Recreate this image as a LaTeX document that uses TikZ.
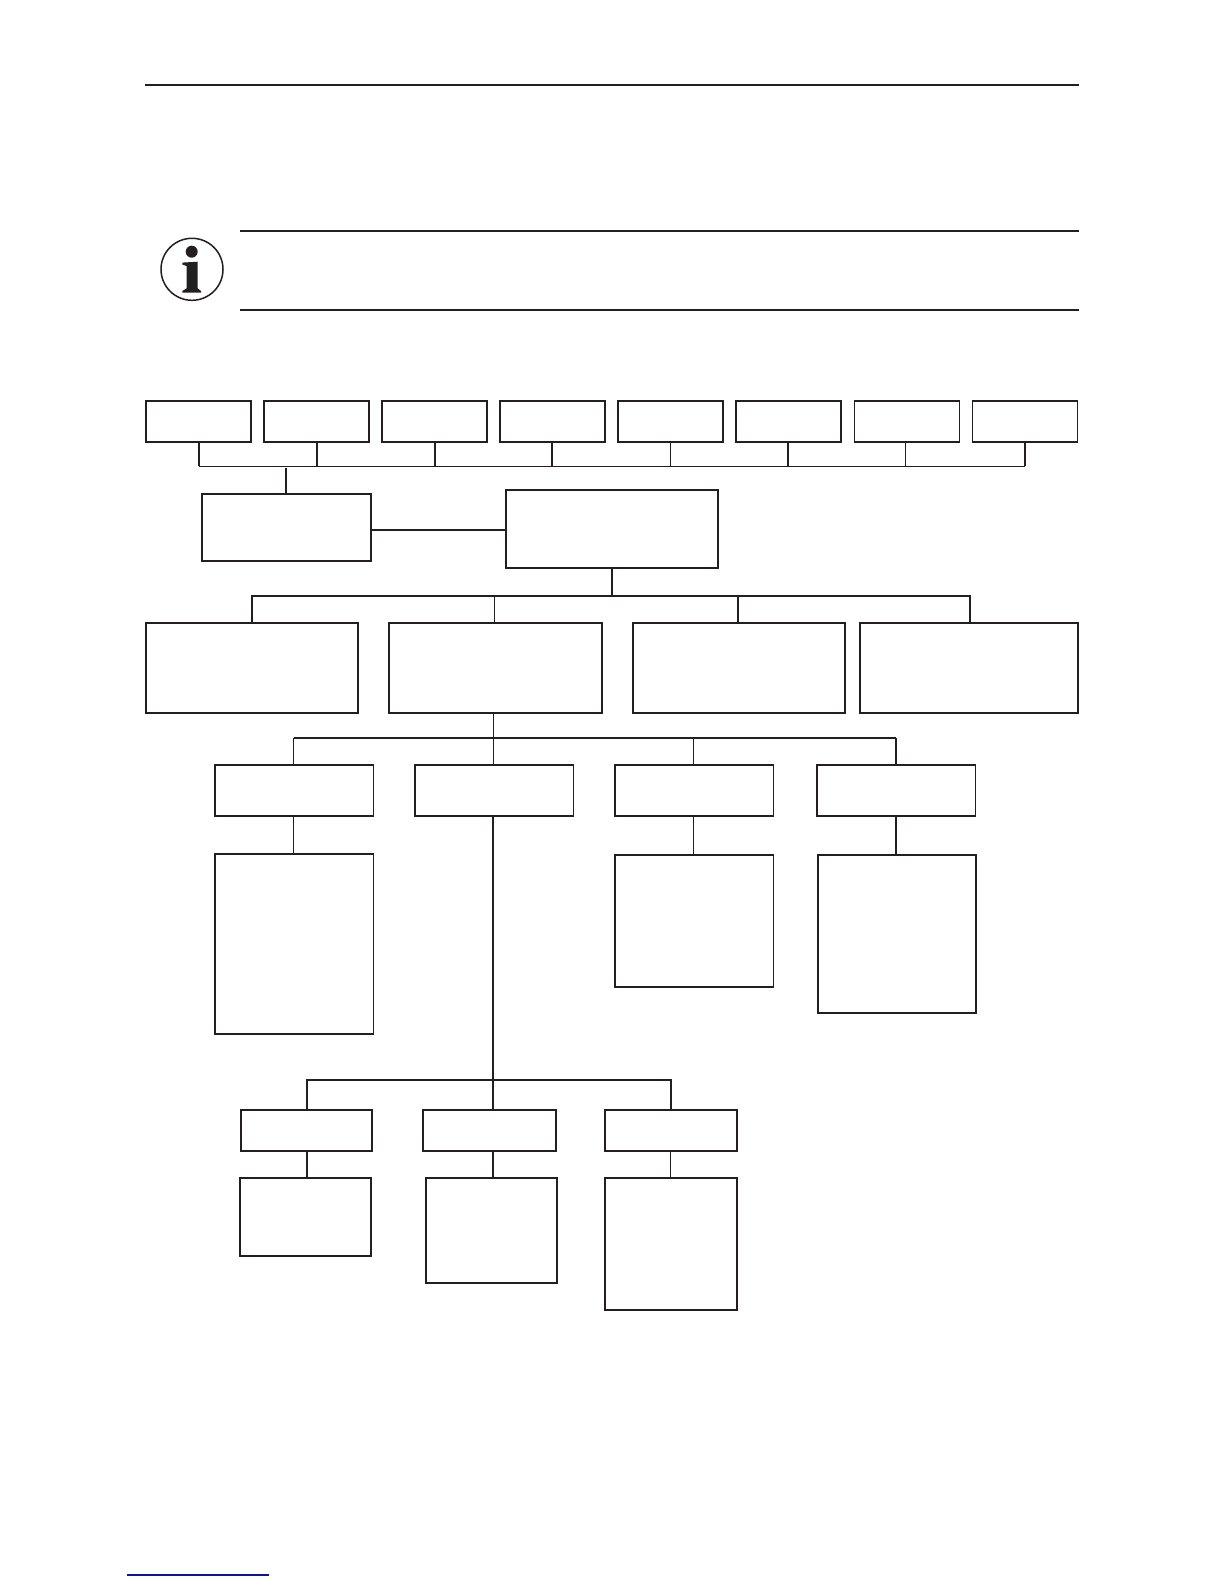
\documentclass[tikz,border=0pt]{standalone}
\usepackage{tikz}
\usetikzlibrary{positioning, calc}
\definecolor{inkcol}{HTML}{231F20}
\definecolor{linkcol}{HTML}{0A14A0}
% One unit is one pixel of the page
\def\px{0.5bp}
\tikzset{
    boxsize/.style 2 args={minimum width=#1*\px, minimum height=#2*\px},
    chartbox/.style={draw=inkcol, line width=0.9bp, fill=white, inner sep=0pt, outer sep=0pt},
    thinline/.style={draw=inkcol, line width=0.55bp},
    thickline/.style={draw=inkcol, line width=1bp},
    rule/.style={draw=inkcol, line width=1.05bp}
}

\begin{document}
\begin{tikzpicture}[x=\px, y=-\px]
        \useasboundingbox (0,0) rectangle (1224,1584);
        \fill[white] (0,0) rectangle (1224,1584);
        % Draw the page rules
        \draw[thinline] (145,85) -- (1079,85);
        \draw[rule] (240,230.7) -- (1079,230.7);
        \draw[rule] (240,310) -- (1079,310);
        % Draw the information sign
        \node[circle, draw=inkcol, line width=0.75bp, inner sep=0pt, outer sep=0pt, minimum size=62*\px] (info) at (192,269.3) {};
        \fill[inkcol] (191.7,251.7) circle (6);
        \fill[inkcol] (182.3,262.6) -- (197.7,261.7) -- (197.7,288.3) -- (201,291) -- (201,292.7)
            -- (182.3,292.7) -- (182.3,291) -- (186.7,288.3) -- (186.7,266) -- (182.3,264.6) -- cycle;
        % Draw the bottom link line
        \draw[draw=linkcol, line width=0.6bp] (127,1575) -- (269,1575);

        % Top row with its bus
        \coordinate (topbus) at (612,466.3);
        \foreach \n/\x/\d/\s in {1/198.5/0.5/thickline, 2/316.5/0/thickline, 3/434.7/0/thickline, 4/552.5/-0.5/thickline, 5/670.5/0/thinline, 6/788.5/-0.5/thickline, 7/907/-1.7/thinline, 8/1025/0/thickline} {
            \node[chartbox, boxsize={105}{41}] (top\n) at (\x,421.5) {};
            \draw[\s] ([xshift=\d*\px]top\n.south) -- ([xshift=\d*\px]top\n.south |- topbus);
        }
        \draw[thinline] (top1.south |- topbus) -- (top8.south |- topbus);

        % Second row
        \node[chartbox, boxsize={169}{67.3}] (unit) at (286.5,527.7) {};
        \node[chartbox, boxsize={212}{78}] (main) at (612.2,529) {};
        \draw[thickline] ([xshift=-0.5*\px]unit.north) -- ++(0,-26);
        \draw[thickline] ([yshift=-1*\px]main.west -| unit.east) -- ([yshift=-1*\px]main.west);

        % Third row
        \coordinate (groupbus) at (612.2,596);
        \coordinate (groupend) at (970.3,596);
        \foreach \n/\x/\w in {1/252/212, 2/495.6/213.2, 3/739/212.6, 4/969.2/218.3} {
            \node[chartbox, boxsize={\w}{89.7}] (group\n) at (\x,667.85) {};
        }
        \draw[thickline] (main.south) -- (groupbus);
        \draw[thickline] (group1.north) |- (groupbus) -- (groupend) -- (group4.north -| groupend);
        \draw[thinline] ([xshift=-1*\px]group2.north) -- ([xshift=-1*\px]group2.north |- groupbus);
        \draw[thickline] ([xshift=-0.8*\px]group3.north) -- ([xshift=-0.8*\px]group3.north |- groupbus);

        % Fourth row with the boxes below it
        \coordinate (partbus) at (493.4,738);
        \foreach \n/\x in {1/294.2, 2/494.2, 3/694.2, 4/896.2} {
            \node[chartbox, boxsize={158.6}{51}] (part\n) at (\x,790.5) {};
        }
        \draw[thinline] (group2.south -| partbus) -- (partbus);
        \draw[thickline] ([xshift=-0.3*\px]part1.north |- partbus) -- ([xshift=-0.3*\px]part4.north |- partbus);
        \draw[thinline] ([xshift=-0.3*\px]part1.north) -- ([xshift=-0.3*\px]part1.north |- partbus);
        \draw[thinline] (part2.north -| partbus) -- (partbus);
        \draw[thinline] ([xshift=-0.3*\px]part3.north) -- ([xshift=-0.3*\px]part3.north |- partbus);
        \draw[thickline] ([xshift=-0.3*\px]part4.north) -- ([xshift=-0.3*\px]part4.north |- partbus);
        \node[chartbox, boxsize={158.6}{180}] (list1) at (294.2,944) {};
        \node[chartbox, boxsize={158.7}{131.7}] (list3) at (694.1,920.85) {};
        \node[chartbox, boxsize={158}{158}] (list4) at (897,934) {};
        \draw[thinline] ([xshift=-0.3*\px]part1.south) -- ([xshift=-0.3*\px]part1.south |- list1.north);
        \draw[thinline] ([xshift=-0.3*\px]part3.south) -- ([xshift=-0.3*\px]part3.south |- list3.north);
        \draw[thickline] ([xshift=-0.3*\px]part4.south) -- ([xshift=-0.3*\px]part4.south |- list4.north);

        % Last rows under the long line
        \coordinate (subbus) at (493,1080);
        \node[chartbox, boxsize={131.5}{40.7}] (sub1) at (306.5,1130.35) {};
        \node[chartbox, boxsize={132.8}{40.7}] (sub2) at (489.2,1130.35) {};
        \node[chartbox, boxsize={132}{40.7}] (sub3) at (671,1130.35) {};
        \node[chartbox, boxsize={131.5}{78}] (item1) at (305.5,1216.7) {};
        \node[chartbox, boxsize={131}{105.3}] (item2) at (491.5,1230.35) {};
        \node[chartbox, boxsize={132}{132}] (item3) at (671,1243.7) {};
        \draw[thickline] (part2.south -| subbus) -- (sub2.north -| subbus);
        \draw[thickline] (sub1.north) |- (subbus) -| (sub3.north);
        \draw[thickline] (sub1.south) -- (sub1.south |- item1.north);
        \draw[thickline] (sub2.south -| subbus) -- (item2.north -| subbus);
        \draw[thinline] ([xshift=-0.7*\px]sub3.south) -- ([xshift=-0.7*\px]item3.north);
\end{tikzpicture}
\end{document}
